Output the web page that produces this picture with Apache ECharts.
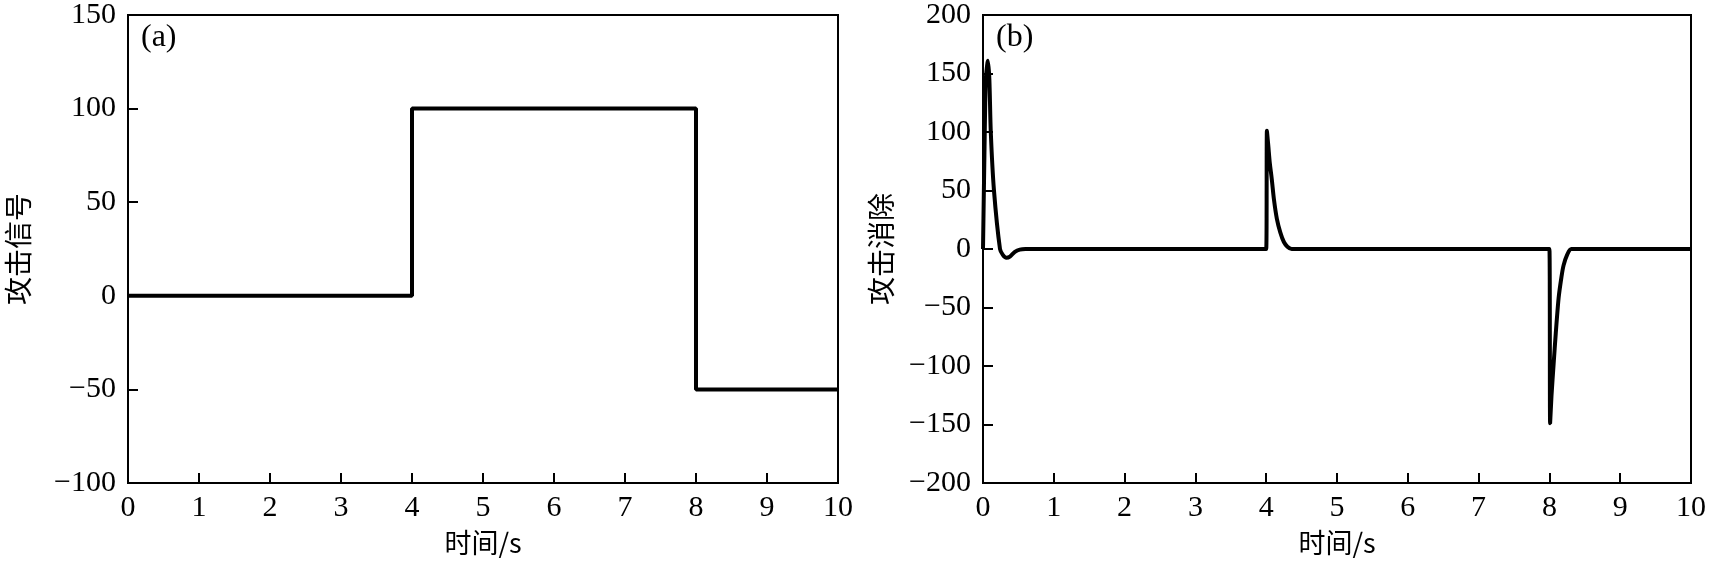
<!DOCTYPE html>
<html>
<head>
<meta charset="utf-8">
<script src="https://cdn.jsdelivr.net/npm/echarts@6/dist/echarts.min.js"></script>
<style>
html,body{margin:0;padding:0;background:#fff;}
#c{width:1709px;height:563px;}
</style>
</head>
<body>
<div id="c"></div>
<script>
// Panel (a): attack signal
const timeA = [0, 4, 4, 8, 8, 10];
const attackSignal = [0, 0, 100, 100, -50, -50];
// Panel (b): attack elimination
const timeB = [0, 0.02, 0.04, 0.07, 0.09, 0.11, 0.155, 0.24, 0.28, 0.33, 0.38, 0.45, 0.52, 0.6,
  4.0, 4.01, 4.03, 4.05, 4.08, 4.11, 4.15, 4.2, 4.25, 4.3, 4.36,
  8.0, 8.01, 8.03, 8.06, 8.09, 8.13, 8.17, 8.2, 8.25, 8.31, 10];
const attackElim = [0, 80, 145, 161, 145, 100, 50, 0, -5, -7.5, -6.5, -2.5, -0.5, 0,
  0, 101, 88, 74, 59, 42, 26, 14, 6, 2, 0,
  0, -149, -125, -98, -72, -42, -24, -14, -5, 0, 0];
const xTicks = [0, 1, 2, 3, 4, 5, 6, 7, 8, 9, 10];
const yTicksA = [-100, -50, 0, 50, 100, 150];
const yTicksB = [-200, -150, -100, -50, 0, 50, 100, 150, 200];
const panelLabels = ['(a)', '(b)'];
const xName = '时间/s';
const yNames = ['攻击信号', '攻击消除'];

const serif = '"Liberation Serif", "DejaVu Serif", serif';
const cjk = '"Noto Sans CJK SC", sans-serif';
const fmt = v => String(v).replace('-', '\u2212');

function xAxis(idx) {
  return {
    type: 'value', gridIndex: idx, min: xTicks[0], max: xTicks[xTicks.length - 1], interval: 1,
    name: xName, nameLocation: 'middle', nameGap: 46,
    nameTextStyle: { fontFamily: cjk, fontSize: 27, color: '#000' },
    axisLine: { onZero: false, lineStyle: { color: '#000', width: 2 } },
    axisTick: { inside: true, length: 10, lineStyle: { color: '#000', width: 2 } },
    axisLabel: { fontFamily: serif, fontSize: 30, color: '#000', margin: 10, formatter: fmt },
    splitLine: { show: false }
  };
}
function yAxis(idx, ticks, gap) {
  return {
    type: 'value', gridIndex: idx, min: ticks[0], max: ticks[ticks.length - 1], interval: 50,
    name: yNames[idx], nameLocation: 'middle', nameGap: gap, nameRotate: 90,
    nameTextStyle: { fontFamily: cjk, fontSize: 28, color: '#000' },
    axisLine: { onZero: false, lineStyle: { color: '#000', width: 2 } },
    axisTick: { inside: true, length: 10, lineStyle: { color: '#000', width: 2 } },
    axisLabel: { fontFamily: serif, fontSize: 30, color: '#000', margin: 12, formatter: fmt },
    splitLine: { show: false }
  };
}

const chart = echarts.init(document.getElementById('c'), null, { renderer: 'canvas' });
chart.setOption({
  animation: false,
  backgroundColor: '#fff',
  grid: [
    { left: 128, top: 11, width: 710, height: 472, show: true, borderColor: '#000', borderWidth: 2, backgroundColor: 'transparent' },
    { left: 983, top: 11, width: 709, height: 472, show: true, borderColor: '#000', borderWidth: 2, backgroundColor: 'transparent' }
  ],
  xAxis: [xAxis(0), xAxis(1)],
  yAxis: [yAxis(0, yTicksA, 96), yAxis(1, yTicksB, 88)],
  graphic: [
    { type: 'text', left: 141, top: 22, style: { text: panelLabels[0], font: '32px ' + serif, fill: '#000' } },
    { type: 'text', left: 996, top: 22, style: { text: panelLabels[1], font: '32px ' + serif, fill: '#000' } }
  ],
  series: [
    { type: 'line', xAxisIndex: 0, yAxisIndex: 0, data: timeA.map((t, i) => [t, attackSignal[i]]),
      showSymbol: false, lineStyle: { color: '#000', width: 4 }, clip: true },
    { type: 'line', xAxisIndex: 1, yAxisIndex: 1, data: timeB.map((t, i) => [t, attackElim[i]]),
      smooth: 0.25, showSymbol: false, lineStyle: { color: '#000', width: 4 }, clip: true }
  ]
});
</script>
</body>
</html>
